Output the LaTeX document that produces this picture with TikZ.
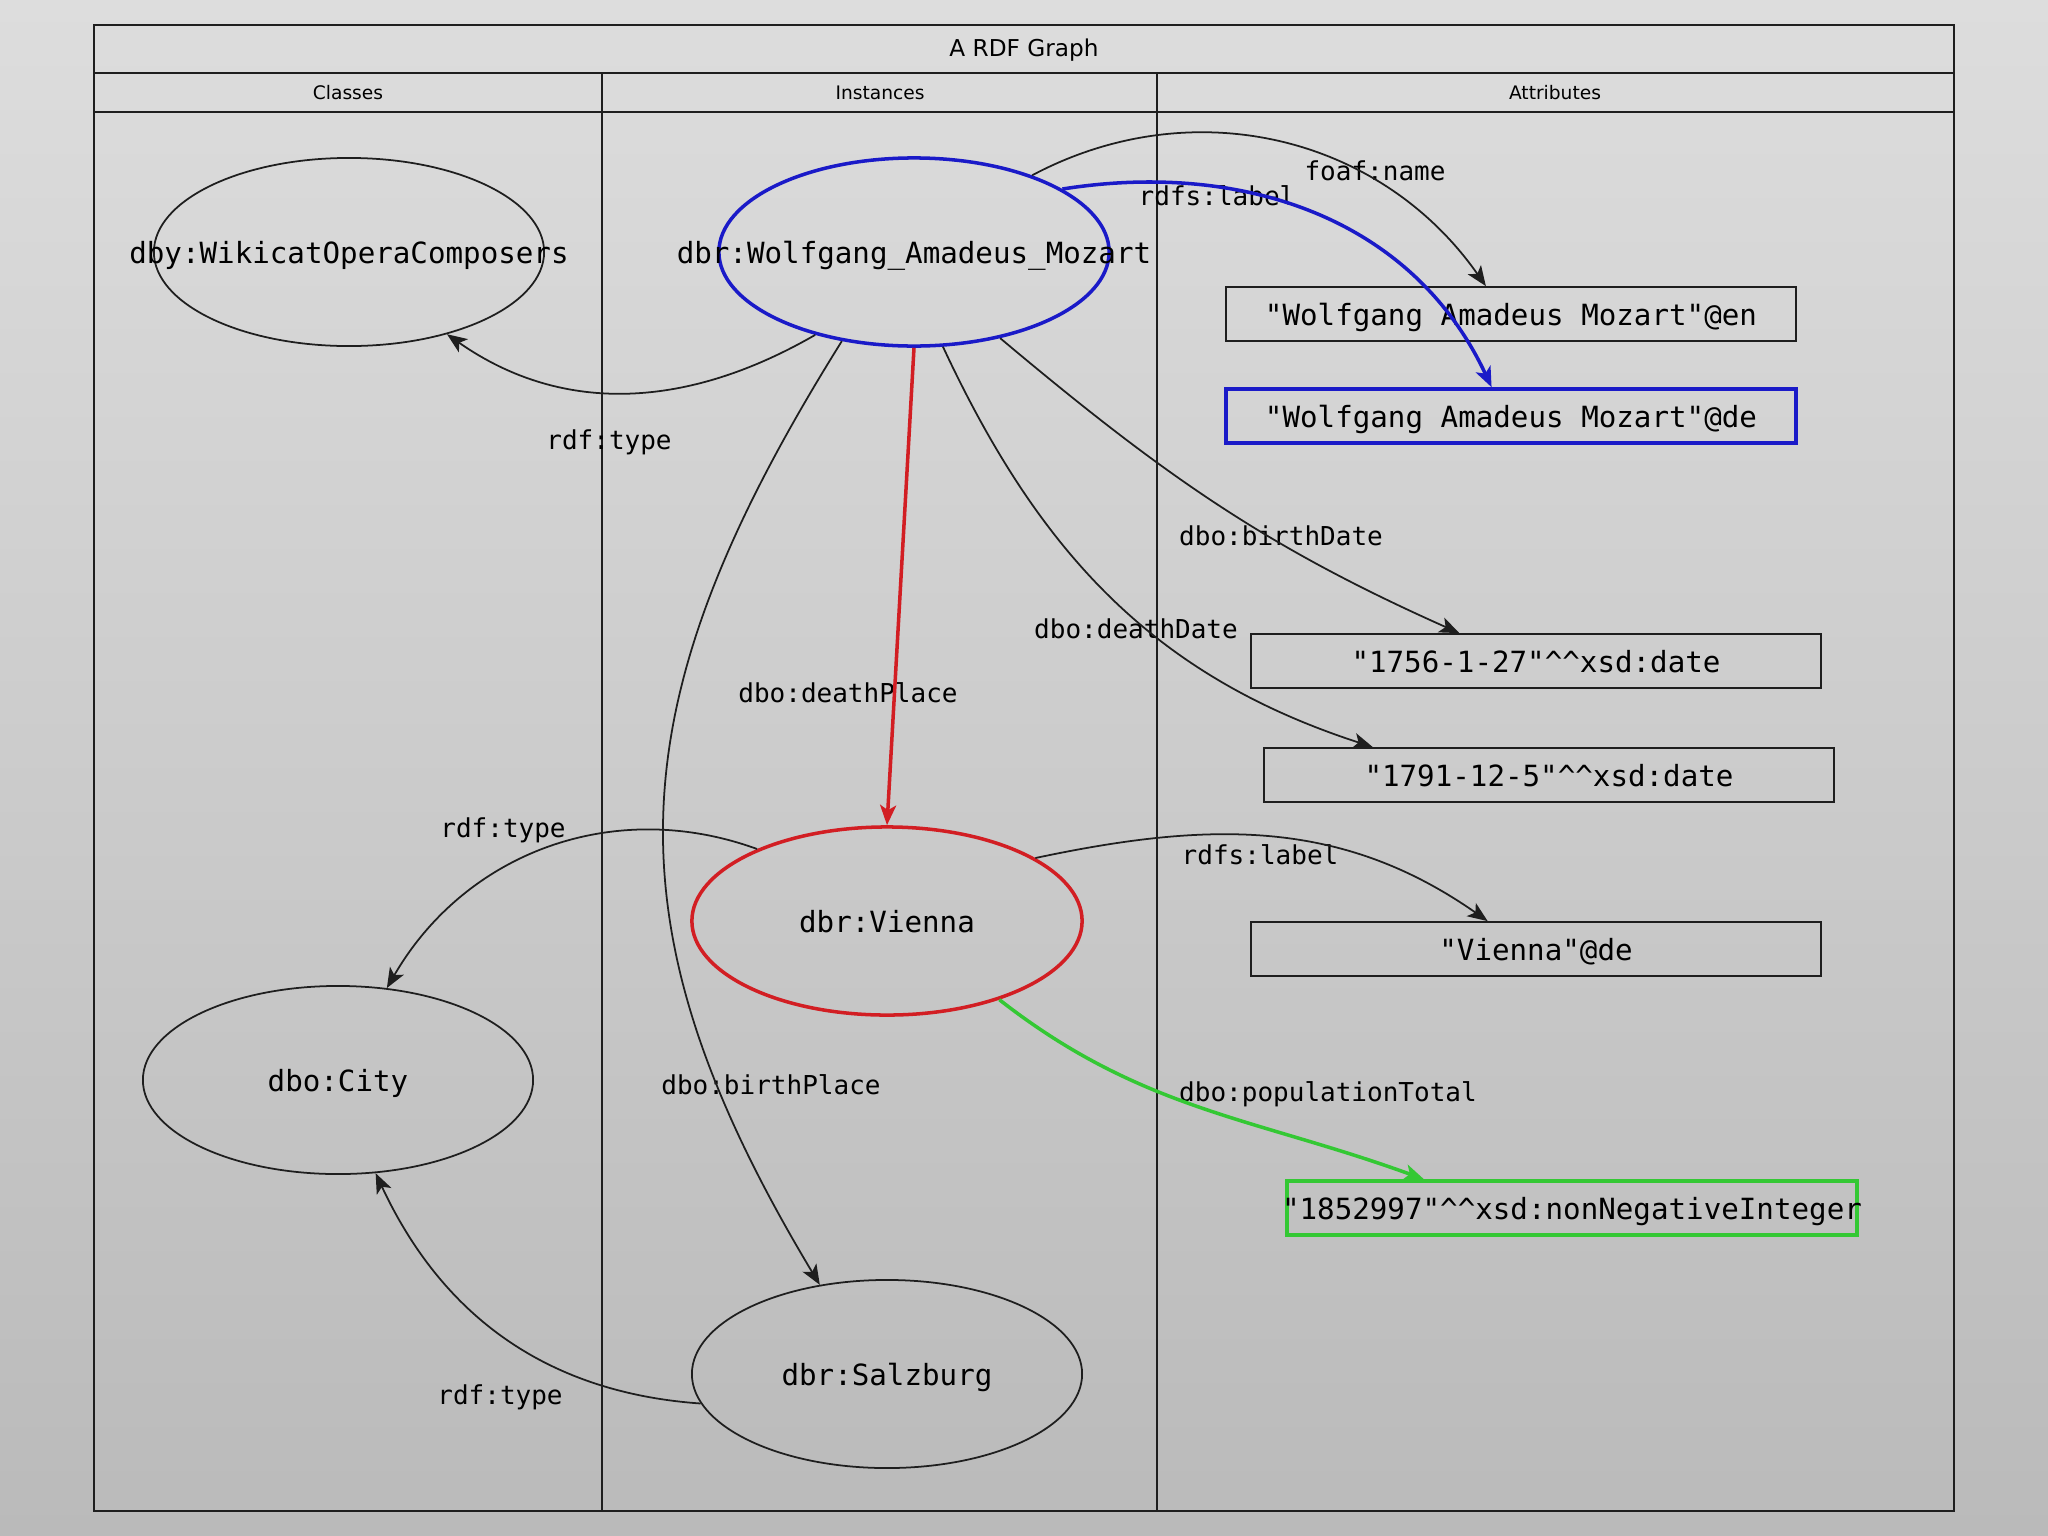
\documentclass[tikz,border=0pt]{standalone}
\usepackage{fontspec}
\setmainfont{DejaVu Sans}
\newfontfamily\graphmono{DejaVu Sans Mono}
\usetikzlibrary{arrows.meta,shapes.geometric}
\definecolor{PanelTop}{HTML}{DDDDDD}
\definecolor{PanelBottom}{HTML}{BABABA}
\definecolor{Frame}{HTML}{1E1E1E}
\definecolor{FocusBlue}{HTML}{1A1AC8}
\definecolor{FocusRed}{HTML}{D21E23}
\definecolor{FocusGreen}{HTML}{34C834}
\newcommand{\nowidth}[1]{\makebox[0pt]{#1}}

\begin{document}
\begin{tikzpicture}[x=0.01cm,y=-0.01cm,>={Stealth[length=0.2cm,width=0.16cm,inset=0.05cm]},
    every node/.style={font=\graphmono\fontsize{8.3}{10}\selectfont},
    res/.style={ellipse,draw=Frame,line width=0.5pt,minimum width=3.9cm,minimum height=1.88cm,inner sep=0pt,text depth=0pt},
    lit/.style={rectangle,draw=Frame,line width=0.5pt,minimum width=5.7cm,minimum height=0.54cm,inner sep=0pt,text depth=0pt},
    prop/.style={font=\graphmono\fontsize{7.4}{9}\selectfont,inner sep=1pt,text depth=0pt},
    head/.style={font=\fontsize{5.3}{6}\selectfont,inner sep=1pt},
    rel/.style={->,Frame,line width=0.5pt},
    hot/.style={->,line width=1pt}]
    \shade[top color=PanelTop,bottom color=PanelBottom] (0,0) rectangle (2048,1536);

    \draw[Frame,line width=0.6pt] (94,25) rectangle (1954,1511);
    \draw[Frame,line width=0.6pt] (94,73) -- (1954,73) (94,112) -- (1954,112);
    \draw[Frame,line width=0.45pt] (602,73) -- (602,1511) (1157,73) -- (1157,1511);
    \node[head,font=\fontsize{6.6}{8}\selectfont] (title) at (1024,50) {A RDF Graph};
    \foreach \x/\name/\txt in {348/classes/Classes,880/instances/Instances,1555/attributes/Attributes} {
      \node[head] (\name) at (\x,93) {\txt};
    }

    \node[res] (wikicat) at (349,252) {\nowidth{dby:WikicatOperaComposers}};
    \node[res,draw=FocusBlue,line width=1pt] (mozart) at (914,252) {\nowidth{dbr:Wolfgang\_Amadeus\_Mozart}};
    \node[res,draw=FocusRed,line width=1pt] (vienna) at (887,921) {dbr:Vienna};
    \node[res] (city) at (338,1080) {dbo:City};
    \node[res] (salzburg) at (887,1374) {dbr:Salzburg};

    \node[lit] (name-en) at (1511,314) {"Wolfgang Amadeus Mozart"@en};
    \node[lit,draw=FocusBlue,line width=1pt] (name-de) at (1511,416) {"Wolfgang Amadeus Mozart"@de};
    \node[lit] (birth) at (1536,661) {"1756-1-27"\textasciicircum\textasciicircum xsd:date};
    \node[lit] (death) at (1549,775) {"1791-12-5"\textasciicircum\textasciicircum xsd:date};
    \node[lit] (label-de) at (1536,949) {"Vienna"@de};
    \node[lit,draw=FocusGreen,line width=1pt] (population) at (1572,1208)
      {\nowidth{"1852997"\textasciicircum\textasciicircum xsd:nonNegativeInteger}};

    \node[prop] (t-wikicat) at (609,440) {rdf:type};
    \node[prop] (p-foaf) at (1375,171) {foaf:name};
    \node[prop] (p-label) at (1217,196) {rdfs:label};
    \node[prop] (p-birth) at (1281,536) {dbo:birthDate};
    \node[prop] (p-death) at (1136,629) {dbo:deathDate};
    \node[prop] (p-dplace) at (848,693) {dbo:deathPlace};
    \node[prop] (t-vienna) at (503,828) {rdf:type};
    \node[prop] (p-vlabel) at (1260,855) {rdfs:label};
    \node[prop] (p-bplace) at (771,1085) {dbo:birthPlace};
    \node[prop] (p-pop) at (1328,1092) {dbo:populationTotal};
    \node[prop] (t-salzburg) at (500,1395) {rdf:type};

    \draw[rel] (mozart.220) to[out=210,in=-35] (wikicat.320);
    \draw[rel] (mozart.33) to[out=28,in=125] (name-en.132);
    \draw[hot,FocusBlue] (mozart.23) to[out=9,in=115] (name-de.124);
    \draw[rel] (mozart.-45) to[out=-40,in=156] (birth.160);
    \draw[rel] (mozart.-73) to[out=-65,in=162] (death.171);
    \draw[hot,FocusRed] (mozart.south) -- (vienna.north);
    \draw[rel] (mozart.231) to[out=238,in=121,looseness=1.15] (salzburg.127);
    \draw[rel] (vienna.151) to[out=160,in=60] (city.62);
    \draw[rel] (vienna.23) to[out=12,in=145] (label-de.150);
    \draw[hot,FocusGreen] (vienna.-35) to[out=-38,in=160] (population.169);
    \draw[rel] (salzburg.189) to[out=176,in=-65] (city.-68);
\end{tikzpicture}
\end{document}
